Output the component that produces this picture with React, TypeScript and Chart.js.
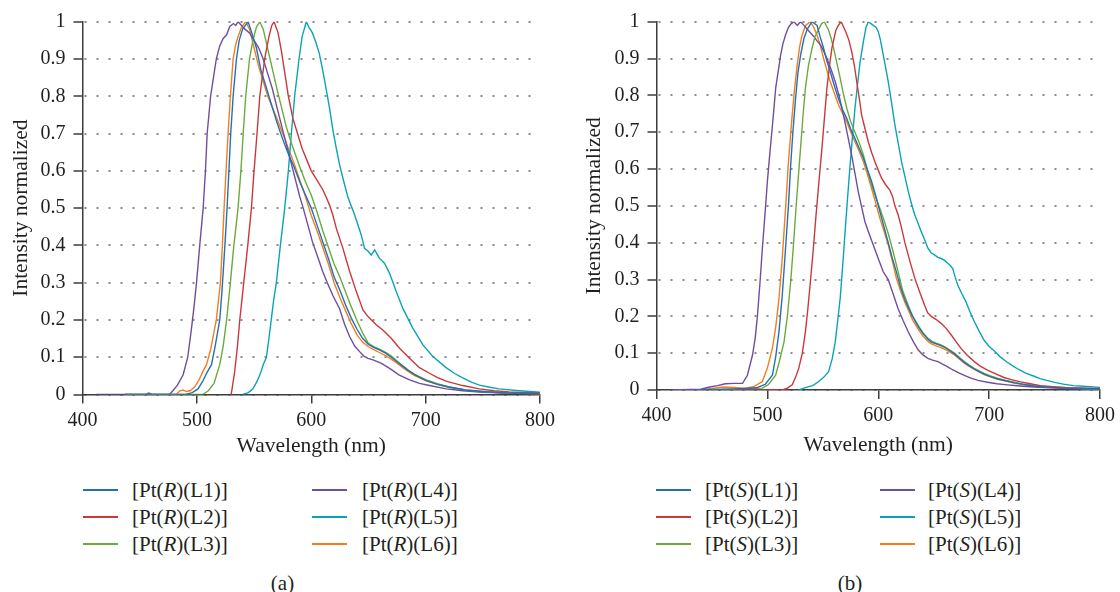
import React, { useEffect, useRef } from "react";
import { Chart, registerables } from "chart.js";

Chart.register(...registerables);

type Pt = [number, number];

const FONT = "'Liberation Serif', 'Times New Roman', serif";
const TEXT = "#231f20";
const AXIS = "#3d3d3d";
const GRID = "#8c8c8c";

const xTickValues = [400, 500, 600, 700, 800];
const xTickLabels = ["400", "500", "600", "700", "800"];
const yTickValues = [0, 0.1, 0.2, 0.3, 0.4, 0.5, 0.6, 0.7, 0.8, 0.9, 1];
const yTickLabels = ["0", "0.1", "0.2", "0.3", "0.4", "0.5", "0.6", "0.7", "0.8", "0.9", "1"];

const ligands = ["L1", "L2", "L3", "L4", "L5", "L6"];
const colors = ["#2271b5", "#c8393c", "#6aab3d", "#6e4f9e", "#0ba3b6", "#f47d20"];

// ---------- panel (a): [Pt(R)(Ln)] ----------
const a1: Pt[] = [[437,0],[490,0],[496,0.005],[501,0.015],[505,0.035],[509,0.06],[512.8,0.08],[516,0.13],[520,0.2],[522,0.28],[524.5,0.4],[526.4,0.5],[528,0.6],[529.6,0.7],[531.7,0.8],[534.6,0.9],[537,0.95],[540,0.98],[544.8,1.0],[548,0.97],[552,0.93],[556,0.87],[560,0.83],[565,0.78],[570,0.73],[575,0.685],[580,0.645],[585,0.61],[590,0.57],[595,0.535],[600,0.5],[605,0.455],[610,0.41],[615,0.365],[620,0.315],[625,0.28],[630,0.24],[635,0.205],[640,0.175],[645,0.15],[650,0.134],[655,0.126],[660,0.119],[665,0.111],[670,0.1],[675,0.088],[680,0.076],[685,0.064],[690,0.054],[695,0.046],[700,0.038],[710,0.028],[720,0.02],[735,0.012],[750,0.008],[770,0.004],[800,0.002]];
const a2: Pt[] = [[529,0],[530,0],[533,0.06],[535.5,0.13],[537.5,0.2],[541,0.3],[544.5,0.4],[547.7,0.5],[550,0.6],[552.6,0.7],[555,0.8],[559.3,0.9],[563,0.96],[565.5,0.99],[567.5,1.0],[571,0.97],[574,0.92],[577,0.86],[580,0.8],[584,0.74],[588,0.7],[592,0.66],[596,0.63],[600,0.6],[605,0.575],[610,0.55],[613,0.53],[616,0.508],[619,0.48],[622,0.445],[627.7,0.392],[633.6,0.33],[639.4,0.276],[645.2,0.227],[649.6,0.209],[656.8,0.187],[662.6,0.173],[669.9,0.151],[677.2,0.124],[685.9,0.097],[694.6,0.072],[703.4,0.057],[710,0.046],[717.9,0.036],[725,0.03],[732.5,0.024],[747,0.015],[760,0.01],[773,0.007],[787,0.005],[800,0.004]];
const a3: Pt[] = [[437,0],[505,0],[510,0.01],[515,0.03],[520,0.08],[523,0.13],[526,0.2],[529,0.29],[532,0.39],[536,0.5],[538.5,0.6],[540.5,0.7],[542.7,0.8],[546,0.9],[549,0.95],[552,0.985],[555,1.0],[558,0.98],[561,0.94],[564,0.9],[567,0.86],[570,0.82],[574,0.77],[578,0.72],[582,0.68],[586,0.645],[590,0.61],[595,0.57],[600,0.535],[605,0.49],[610,0.44],[615,0.395],[620,0.35],[625,0.315],[630,0.275],[635,0.235],[640,0.198],[645,0.165],[650,0.137],[655,0.128],[660,0.121],[665,0.113],[670,0.103],[675,0.09],[680,0.077],[685,0.065],[690,0.055],[695,0.047],[700,0.04],[710,0.029],[720,0.021],[735,0.012],[750,0.008],[770,0.004],[800,0.002]];
const a4: Pt[] = [[412,0],[455,0],[458,0.004],[461,0],[476,0],[479,0.01],[483,0.025],[488,0.053],[492,0.1],[495,0.17],[497.5,0.235],[499.7,0.3],[502.5,0.4],[505.5,0.5],[507.5,0.6],[509,0.7],[512,0.8],[517,0.9],[520,0.935],[523,0.955],[526,0.965],[528.8,0.987],[532,0.995],[534,0.99],[536,1.0],[539,0.99],[542,0.98],[546,0.97],[550,0.95],[554,0.93],[558,0.9],[562,0.86],[566,0.82],[570,0.77],[575,0.71],[580,0.65],[585,0.59],[590,0.53],[593,0.5],[597,0.455],[601,0.41],[605,0.375],[610,0.33],[614,0.3],[619,0.265],[624.8,0.23],[629,0.19],[633.6,0.155],[638,0.13],[642.3,0.115],[646,0.103],[649.6,0.097],[654,0.093],[661,0.084],[668.5,0.07],[677,0.052],[686,0.039],[694.6,0.03],[703.4,0.024],[718,0.015],[732.5,0.01],[750,0.006],[773,0.004],[800,0.002]];
const a5: Pt[] = [[540,0],[545,0.005],[549,0.015],[552.6,0.035],[556,0.06],[558,0.08],[560.8,0.1],[563,0.15],[565,0.2],[567,0.25],[569.5,0.3],[573,0.4],[576.8,0.5],[580,0.6],[582.6,0.7],[585.5,0.8],[589.3,0.9],[592,0.96],[595.7,1.0],[598,0.985],[601,0.97],[604,0.945],[607,0.915],[610,0.87],[613,0.82],[616,0.768],[618.9,0.71],[621.9,0.66],[624.8,0.616],[627.7,0.58],[632,0.53],[637.9,0.482],[643.7,0.428],[646.6,0.392],[649.5,0.385],[652.5,0.374],[655.4,0.388],[659.7,0.365],[664,0.352],[668.5,0.325],[674.3,0.276],[680.1,0.231],[688.8,0.178],[697.6,0.133],[706.3,0.102],[717.9,0.072],[725,0.057],[732,0.045],[740,0.033],[747,0.025],[755,0.02],[764,0.015],[782,0.01],[800,0.006]];
const a6: Pt[] = [[437,0],[482,0],[485,0.01],[488,0.012],[491,0.008],[494,0.01],[498,0.02],[502,0.04],[505,0.06],[508.4,0.08],[512,0.12],[517,0.2],[520.6,0.3],[522.3,0.4],[523.8,0.5],[525.5,0.6],[527.3,0.7],[529.3,0.8],[531.7,0.9],[534,0.94],[536,0.96],[539,0.985],[542.7,1.0],[546,0.98],[550,0.93],[554,0.88],[558,0.84],[562,0.8],[566,0.77],[570,0.74],[575,0.7],[580,0.66],[585,0.62],[590,0.575],[595,0.53],[600,0.48],[605,0.44],[610,0.395],[615,0.35],[620,0.3],[625,0.26],[630,0.225],[635,0.19],[640,0.16],[645,0.14],[650,0.128],[655,0.12],[660,0.112],[665,0.104],[670,0.095],[675,0.084],[680,0.072],[685,0.061],[690,0.051],[700,0.037],[710,0.027],[720,0.019],[735,0.011],[750,0.007],[770,0.004],[800,0.002]];

// ---------- panel (b): [Pt(S)(Ln)] ----------
const b1: Pt[] = [[437,0],[470,0.003],[490,0.006],[498,0.015],[504.5,0.04],[507.5,0.09],[510.5,0.16],[513.5,0.26],[516.4,0.385],[519,0.5],[521,0.61],[523,0.7],[525.4,0.79],[527.5,0.86],[530,0.91],[533,0.955],[536,0.98],[540.3,1.0],[544.8,0.99],[547.5,0.96],[550.7,0.928],[553.5,0.895],[556.7,0.864],[560,0.83],[564.2,0.79],[568,0.76],[571.6,0.737],[575,0.71],[579,0.683],[583,0.655],[586.6,0.63],[590,0.6],[594,0.566],[598,0.525],[601.5,0.484],[605,0.445],[609,0.4],[612.5,0.36],[616.4,0.32],[620,0.28],[624,0.245],[627,0.225],[631,0.2],[636,0.172],[640,0.155],[644.8,0.138],[648,0.13],[652.3,0.125],[656,0.121],[659.7,0.116],[664,0.108],[668.7,0.098],[673,0.087],[677.6,0.075],[682,0.066],[686.6,0.057],[691,0.05],[695.5,0.043],[701,0.037],[707.5,0.03],[715,0.025],[722.4,0.02],[730,0.016],[740.3,0.011],[755,0.007],[770,0.005],[785,0.004],[800,0.003]];
const b2: Pt[] = [[440,0],[513.4,0],[518,0.005],[522.4,0.014],[525.5,0.035],[528.4,0.06],[531.5,0.1],[534.3,0.158],[536.5,0.22],[538.8,0.294],[541.5,0.385],[543.9,0.475],[546.5,0.565],[549.2,0.656],[551.5,0.74],[553.7,0.82],[556,0.88],[558.2,0.928],[561.8,0.977],[564,0.99],[566.6,1.0],[570.7,0.973],[573.5,0.95],[576.1,0.918],[578.5,0.88],[580.6,0.837],[583,0.79],[585,0.747],[588,0.71],[591,0.674],[594,0.645],[597,0.62],[600,0.597],[603,0.575],[606.5,0.558],[610.4,0.543],[613,0.525],[615,0.5],[618,0.475],[621,0.44],[624,0.4],[628.5,0.35],[633,0.303],[637.5,0.265],[641.8,0.23],[644.5,0.21],[647.8,0.2],[652,0.192],[656.7,0.181],[661,0.168],[665.7,0.15],[670,0.132],[674.6,0.113],[680,0.095],[686.6,0.077],[692,0.065],[698.5,0.054],[705,0.045],[713.4,0.034],[720,0.028],[728.4,0.022],[737,0.017],[746.3,0.012],[758,0.009],[770,0.006],[785,0.005],[800,0.004]];
const b3: Pt[] = [[437,0],[470,0.002],[495.5,0.005],[501,0.015],[507.5,0.04],[511,0.08],[515,0.13],[518,0.2],[521,0.294],[523.2,0.38],[525.4,0.475],[527.7,0.57],[529.9,0.656],[532,0.74],[534.3,0.82],[537,0.88],[540.3,0.928],[543,0.96],[546.3,0.98],[549,0.995],[551.3,1.0],[555.2,0.977],[557.5,0.955],[559.7,0.928],[562.5,0.89],[565.7,0.846],[568.5,0.805],[571.6,0.765],[575,0.73],[579,0.7],[583,0.67],[586.6,0.638],[590,0.6],[594,0.557],[597.5,0.525],[601.5,0.493],[605,0.462],[609,0.425],[613,0.38],[618,0.32],[622,0.27],[627,0.23],[631,0.2],[635.9,0.176],[640,0.157],[644.8,0.14],[648.5,0.132],[652.3,0.127],[656,0.123],[659.7,0.118],[664,0.11],[668.7,0.1],[673,0.089],[677.6,0.077],[682,0.068],[686.6,0.059],[691,0.052],[695.5,0.045],[701,0.038],[707.5,0.032],[715,0.026],[722.4,0.021],[730,0.016],[740.3,0.012],[755,0.008],[770,0.006],[785,0.004],[800,0.003]];
const b4: Pt[] = [[413,0],[440,0.002],[448,0.008],[455,0.012],[462,0.017],[470,0.018],[477.6,0.018],[482,0.04],[486.6,0.095],[489,0.14],[491,0.2],[493.3,0.29],[495.5,0.385],[497.8,0.475],[500,0.566],[502,0.635],[504,0.7],[505.8,0.76],[507.5,0.82],[510,0.87],[512,0.91],[514,0.94],[516.4,0.964],[519,0.985],[521,0.993],[524,1.0],[527,0.99],[530,1.0],[533,0.99],[535.8,0.98],[538.8,0.97],[541.8,0.96],[544.8,0.948],[547.8,0.937],[550.8,0.92],[553.7,0.9],[557.5,0.87],[561.2,0.837],[565,0.795],[568.6,0.747],[572.3,0.693],[576,0.638],[579,0.588],[582,0.538],[585,0.497],[588,0.457],[591.7,0.425],[595.5,0.394],[600,0.357],[604.5,0.321],[609,0.3],[613,0.265],[618,0.22],[622.5,0.188],[627,0.158],[631.5,0.132],[635.9,0.109],[640,0.096],[644.8,0.086],[649,0.081],[653.8,0.077],[658,0.07],[662.7,0.063],[667,0.055],[671.7,0.048],[677.6,0.04],[683.6,0.032],[690,0.026],[698.5,0.021],[707,0.017],[716.4,0.014],[728,0.011],[740.3,0.008],[755,0.006],[770,0.004],[785,0.003],[800,0.002]];
const b5: Pt[] = [[528.4,0],[533,0.005],[537.3,0.009],[541,0.012],[546.3,0.023],[551,0.035],[555.2,0.05],[558.5,0.085],[561.2,0.13],[563.5,0.19],[565.7,0.25],[568,0.34],[570.1,0.43],[572.3,0.52],[574.6,0.61],[576.8,0.69],[579,0.765],[581.3,0.83],[583.6,0.89],[586.6,0.946],[589,0.985],[591,1.0],[595.5,0.99],[598,0.985],[600,0.973],[602,0.95],[604.5,0.91],[607,0.87],[609,0.837],[612,0.78],[615,0.72],[618,0.67],[621,0.62],[624,0.58],[627,0.54],[630,0.505],[633,0.475],[636,0.452],[638.8,0.43],[641.8,0.408],[644.8,0.385],[647.8,0.372],[650.8,0.367],[653.8,0.36],[656.7,0.357],[659.7,0.352],[662.7,0.344],[665,0.338],[667.2,0.33],[669.5,0.305],[671.7,0.285],[675.3,0.262],[679,0.24],[682.8,0.212],[686.6,0.186],[691,0.16],[695.5,0.135],[700,0.118],[705,0.105],[710,0.09],[716,0.076],[722,0.064],[727,0.055],[733,0.046],[740,0.038],[746,0.031],[752,0.026],[760,0.02],[767,0.016],[776,0.012],[785,0.01],[800,0.007]];
const b6: Pt[] = [[437,0],[450,0.004],[460,0.008],[470,0.007],[480,0.004],[488,0.01],[495.5,0.023],[500,0.06],[504.5,0.113],[507.5,0.17],[510.5,0.25],[513,0.34],[515,0.43],[517,0.52],[518.8,0.61],[520.6,0.68],[522.4,0.747],[524.6,0.82],[526.9,0.882],[529,0.93],[531.3,0.964],[534.5,0.99],[538.8,1.0],[541.8,0.985],[544.8,0.964],[547.8,0.935],[550.7,0.9],[553.7,0.868],[556.7,0.837],[560.5,0.805],[564.2,0.774],[568,0.75],[571.6,0.728],[575.3,0.7],[579,0.674],[582.8,0.648],[586.6,0.62],[590.3,0.585],[594,0.547],[597.8,0.507],[601.5,0.466],[605.3,0.43],[609,0.394],[612.7,0.35],[616.4,0.303],[620,0.27],[624,0.238],[627,0.218],[631,0.19],[636,0.165],[640,0.148],[644.8,0.132],[648,0.125],[652.3,0.12],[656,0.116],[659.7,0.111],[664,0.104],[668.7,0.095],[673,0.084],[677.6,0.073],[682,0.064],[686.6,0.056],[691,0.049],[695.5,0.042],[701,0.036],[707.5,0.029],[715,0.024],[722.4,0.019],[730,0.015],[740.3,0.011],[755,0.007],[770,0.005],[785,0.004],[800,0.003]];

const seriesA = [a1, a2, a3, a4, a5, a6];
const seriesB = [b1, b2, b3, b4, b5, b6];

type Area = { l: number; r: number; t: number; b: number };

const CW = 560;
const CH = 470;
const TITLE_SIZE = 21.5;
const TICK_SIZE = 20;

function Panel(props: { left: number; area: Area; yTitleX: number; xTitleY: number; series: Pt[][]; isomer: string }) {
  const ref = useRef<HTMLCanvasElement>(null);
  useEffect(() => {
    const { area, yTitleX, xTitleY, series, isomer } = props;
    const lh = TITLE_SIZE * 1.2;
    const chart = new Chart(ref.current as HTMLCanvasElement, {
      type: "line",
      data: {
        datasets: series.map((pts, i) => ({
          label: `[Pt(${isomer})(${ligands[i]})]`,
          data: pts.map(([x, y]) => ({ x, y })),
          borderColor: colors[i],
          backgroundColor: colors[i],
          borderWidth: 1.4,
          pointRadius: 0,
          tension: 0,
          fill: false,
        })),
      },
      options: {
        responsive: false,
        animation: false,
        events: [],
        parsing: false,
        layout: { padding: { left: 0, top: area.t, right: CW - area.r, bottom: 0 } },
        plugins: { legend: { display: false }, tooltip: { enabled: false } },
        scales: {
          x: {
            type: "linear",
            min: 400,
            max: 800,
            afterBuildTicks: (s: any) => {
              s.ticks = xTickValues.map((v) => ({ value: v }));
            },
            afterFit: (s: any) => {
              s.height = CH - area.b;
            },
            ticks: {
              font: { family: FONT, size: TICK_SIZE },
              color: TEXT,
              padding: 5,
              maxRotation: 0,
              autoSkip: false,
              callback: (_v: any, i: number) => xTickLabels[i],
            },
            grid: {
              display: true,
              drawOnChartArea: false,
              drawTicks: true,
              tickLength: 9,
              tickColor: AXIS,
              tickWidth: 1.5,
              color: AXIS,
              lineWidth: 1.5,
            },
            border: { display: true, color: AXIS, width: 1.5 },
            title: {
              display: true,
              text: "Wavelength (nm)",
              color: TEXT,
              font: { family: FONT, size: TITLE_SIZE },
              padding: { top: 0, bottom: CH - xTitleY - lh / 2 },
            },
          },
          y: {
            type: "linear",
            min: 0,
            max: 1,
            afterBuildTicks: (s: any) => {
              s.ticks = yTickValues.map((v) => ({ value: v }));
            },
            afterFit: (s: any) => {
              s.width = area.l;
            },
            ticks: {
              font: { family: FONT, size: TICK_SIZE },
              color: TEXT,
              padding: 8,
              autoSkip: false,
              callback: (_v: any, i: number) => yTickLabels[i],
            },
            grid: {
              display: true,
              drawOnChartArea: true,
              drawTicks: true,
              color: GRID,
              lineWidth: 2,
              tickLength: 9,
              tickColor: AXIS,
              tickWidth: 1.5,
              tickBorderDash: [],
            },
            border: { display: true, color: AXIS, width: 1.5, dash: [2, 10], dashOffset: -1 },
            title: {
              display: true,
              text: "Intensity normalized",
              color: TEXT,
              font: { family: FONT, size: TITLE_SIZE },
              padding: { top: yTitleX - lh / 2, bottom: 0 },
            },
          },
        },
      } as any,
    });
    return () => chart.destroy();
  }, []);
  return (
    <canvas
      ref={ref}
      width={CW}
      height={CH}
      style={{ position: "absolute", left: props.left, top: 0, width: CW, height: CH }}
    />
  );
}

function Legend(props: { lineX: number[]; textX: number[]; isomer: string }) {
  const rows = [490, 517, 544];
  const items = ligands.map((lig, i) => {
    const col = i < 3 ? 0 : 1;
    const row = i % 3;
    const cy = rows[row];
    return (
      <React.Fragment key={lig}>
        <div
          style={{
            position: "absolute",
            left: props.lineX[col],
            top: cy - 1,
            width: 35,
            height: 2,
            background: colors[i],
          }}
        />
        <div
          style={{
            position: "absolute",
            left: props.textX[col],
            top: cy - 13,
            height: 26,
            lineHeight: "26px",
            fontFamily: FONT,
            fontSize: 21,
            color: TEXT,
            whiteSpace: "nowrap",
          }}
        >
          [Pt(<i>{props.isomer}</i>)({lig})]
        </div>
      </React.Fragment>
    );
  });
  return <>{items}</>;
}

function Caption(props: { cx: number; text: string }) {
  return (
    <div
      style={{
        position: "absolute",
        left: props.cx - 40,
        width: 80,
        top: 570,
        height: 26,
        lineHeight: "26px",
        textAlign: "center",
        fontFamily: FONT,
        fontSize: 21,
        color: TEXT,
      }}
    >
      {props.text}
    </div>
  );
}

export default function App() {
  return (
    <div
      style={{
        position: "absolute",
        left: 0,
        top: 0,
        width: 1120,
        height: 592,
        background: "#ffffff",
        overflow: "hidden",
      }}
    >
      <Panel left={0} area={{ l: 82.5, r: 541, t: 21.7, b: 394.5 }} yTitleX={21} xTitleY={446.7} series={seriesA} isomer="R" />
      <Panel left={560} area={{ l: 96.5, r: 543.5, t: 21.7, b: 390 }} yTitleX={34.5} xTitleY={445} series={seriesB} isomer="S" />
      <Legend lineX={[83, 312]} textX={[132, 362]} isomer="R" />
      <Legend lineX={[656, 880]} textX={[705, 928]} isomer="S" />
      <Caption cx={282.5} text="(a)" />
      <Caption cx={850} text="(b)" />
    </div>
  );
}
